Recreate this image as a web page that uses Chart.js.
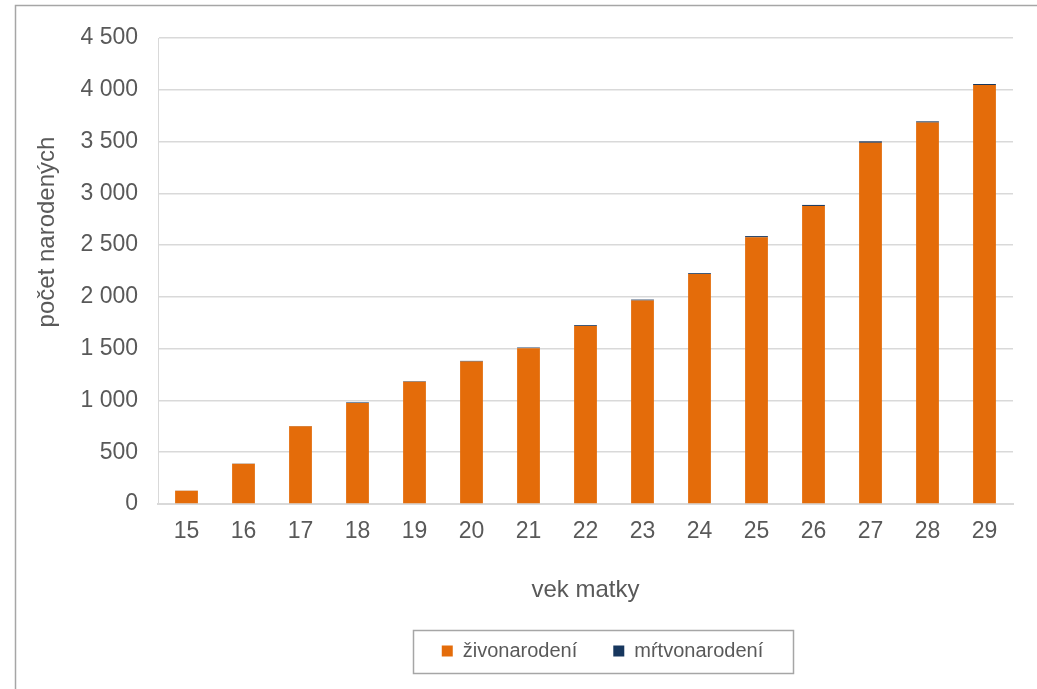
<!DOCTYPE html>
<html>
<head>
<meta charset="utf-8">
<script src="https://cdn.jsdelivr.net/npm/chart.js@4/dist/chart.umd.min.js"></script>
<style>
  html, body { margin: 0; padding: 0; background: #fff; }
  #wrap { width: 1037px; height: 689px; position: relative; }
</style>
</head>
<body>
<div id="wrap"><canvas id="c" width="1037" height="689"></canvas></div>
<script>
const categories = ['15','16','17','18','19','20','21','22','23','24','25','26','27','28','29'];
const liveBirths = [128, 388, 750, 975, 1180, 1375, 1505, 1720, 1965, 2220, 2575, 2878, 3488, 3683, 4045];
const stillBirths = [1, 2, 3, 6, 5, 7, 6, 8, 9, 9, 12, 10, 14, 12, 11];
const seriesNames = ['živonarodení', 'mŕtvonarodení'];
const xTitle = 'vek matky';
const yTitle = 'počet narodených';
const yMin = 0, yMax = 4500, yStep = 500;

const FONT = '"Liberation Sans", Arial, sans-serif';
const TXT = '#595959';
const LEGEND_SHIFT = 86;

const framePlugin = {
  id: 'frame',
  afterLayout(chart) {
    const lg = chart.legend;
    if (lg) { lg.left += LEGEND_SHIFT; lg.right += LEGEND_SHIFT; }
  },
  beforeDraw(chart) {
    const ctx = chart.ctx;
    ctx.save();
    ctx.fillStyle = '#ffffff';
    ctx.fillRect(0, 0, chart.width, chart.height);
    ctx.strokeStyle = '#a6a6a6';
    ctx.lineWidth = 1.5;
    ctx.beginPath();
    ctx.moveTo(15.5, chart.height + 2);
    ctx.lineTo(15.5, 5.5);
    ctx.lineTo(chart.width + 2, 5.5);
    ctx.stroke();
    ctx.restore();
  },
  afterDraw(chart) {
    const ctx = chart.ctx;
    ctx.save();
    ctx.fillStyle = TXT;
    ctx.font = '24px ' + FONT;
    ctx.textAlign = 'center';
    ctx.textBaseline = 'middle';
    ctx.translate(47, 232);
    ctx.rotate(-Math.PI / 2);
    ctx.fillText(yTitle, 0, 0);
    ctx.restore();
    const lg = chart.legend;
    if (lg) {
      const cx = (lg.left + lg.right) / 2;
      const cy = lg.top + 46;
      ctx.save();
      ctx.strokeStyle = '#a6a6a6';
      ctx.lineWidth = 1.5;
      ctx.strokeRect(Math.round(cx - 190) + 0.5, Math.round(cy - 21.5) + 0.5, 380, 43);
      ctx.restore();
    }
  }
};

new Chart(document.getElementById('c'), {
  type: 'bar',
  data: {
    labels: categories,
    datasets: [
      { label: seriesNames[0], data: liveBirths, backgroundColor: '#E46C0A', borderWidth: 0,
        barPercentage: 0.8, categoryPercentage: 0.5 },
      { label: seriesNames[1], data: stillBirths, backgroundColor: '#17375E', borderWidth: 0,
        barPercentage: 0.8, categoryPercentage: 0.5 }
    ]
  },
  options: {
    responsive: false,
    animation: false,
    devicePixelRatio: 1,
    layout: { padding: { left: 20, right: 24, top: 38, bottom: 18 } },
    plugins: {
      title: { display: false },
      tooltip: { enabled: false },
      legend: {
        position: 'bottom',
        labels: {
          font: { family: FONT, size: 20 },
          color: TXT,
          boxWidth: 11,
          boxHeight: 11,
          padding: 36,
          useBorderRadius: false
        }
      }
    },
    scales: {
      x: {
        stacked: true,
        grid: { display: false, drawTicks: false },
        border: { display: true, color: '#d9d9d9', width: 2 },
        ticks: { font: { family: FONT, size: 23 }, color: TXT, padding: 14, maxRotation: 0 },
        title: { display: true, text: xTitle, font: { family: FONT, size: 24 }, color: TXT,
                 padding: { top: 0, bottom: 0 } },
        afterFit(s) { s.height = 101; }
      },
      y: {
        stacked: true,
        min: yMin, max: yMax,
        grid: { color: '#d9d9d9', lineWidth: 1.5, drawTicks: false },
        border: { display: true, color: '#d9d9d9', width: 1 },
        ticks: {
          stepSize: yStep,
          font: { family: FONT, size: 23 }, color: TXT, padding: 20,
          callback: v => String(v).replace(/\B(?=(\d{3})+(?!\d))/g, ' ')
        },
        afterFit(s) { s.width = 138; }
      }
    }
  },
  plugins: [framePlugin]
});
</script>
</body>
</html>
